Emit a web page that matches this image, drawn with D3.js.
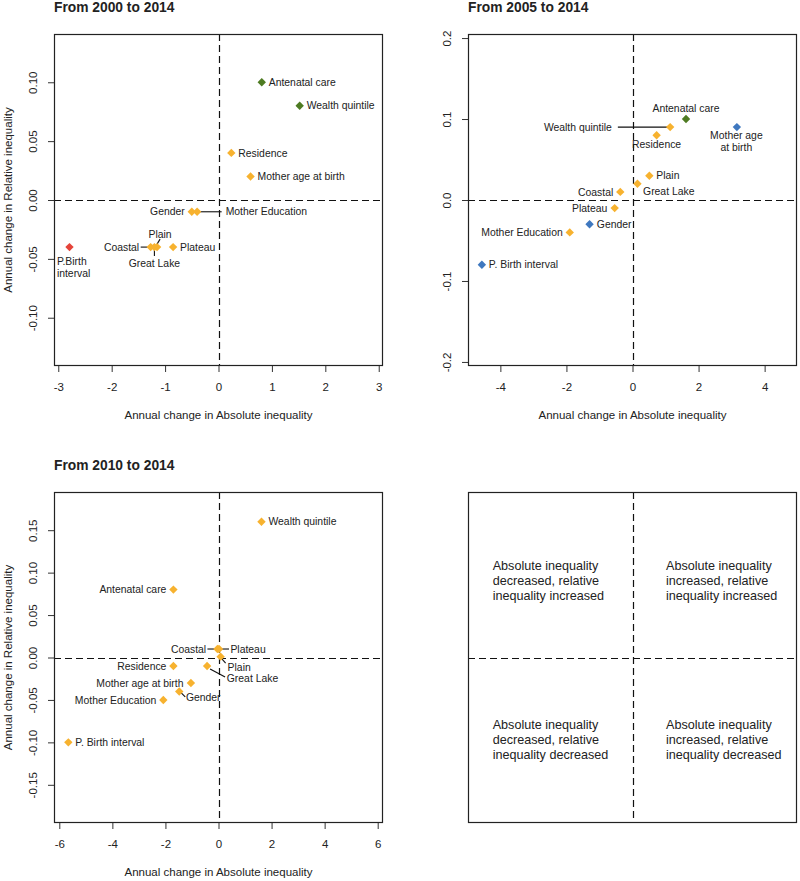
<!DOCTYPE html>
<html>
<head>
<meta charset="utf-8">
<script src="https://cdn.jsdelivr.net/npm/d3@7"></script>
<style>
  body { margin: 0; background: #fff; }
  svg { display: block; }
  text { font-family: "Liberation Sans", Arial, Helvetica, sans-serif; fill: #222; }
</style>
</head>
<body>
<svg id="chart" width="800" height="881"></svg>
<script>
// ---------------- DATA ----------------
const categories = ["Wealth quintile", "Mother Education", "Residence", "Gender",
  "Mother age at birth", "P. Birth interval", "Antenatal care",
  "Coastal", "Plain", "Plateau", "Great Lake"];

// From 2000 to 2014
const abs2000 = [1.52, -0.40, 0.24, -0.50, 0.60, -2.79, 0.81, -1.27, -1.15, -0.85, -1.20];
const rel2000 = [0.08, -0.01, 0.04, -0.01, 0.02, -0.04, 0.10, -0.04, -0.04, -0.04, -0.04];
const grp2000 = ["green", "orange", "orange", "orange", "orange", "red", "green", "orange", "orange", "orange", "orange"];

// From 2005 to 2014
const abs2005 = [1.14, -1.90, 0.73, -1.30, 3.16, -4.56, 1.62, -0.37, 0.51, -0.54, 0.15];
const rel2005 = [0.09, -0.04, 0.08, -0.03, 0.09, -0.08, 0.10, 0.01, 0.03, -0.01, 0.02];
const grp2005 = ["orange", "orange", "orange", "blue", "blue", "blue", "green", "orange", "orange", "orange", "orange"];

// From 2010 to 2014
const abs2010 = [1.62, -2.08, -1.70, -1.48, -1.04, -5.66, -1.70, -0.04, 0.08, 0.02, -0.43];
const rel2010 = [0.16, -0.05, -0.01, -0.04, -0.03, -0.10, 0.08, 0.01, 0.001, 0.01, -0.01];
const grp2010 = ["orange", "orange", "orange", "orange", "orange", "orange", "orange", "orange", "orange", "orange", "orange"];

const xTicks2000 = [-3, -2, -1, 0, 1, 2, 3];
const yTicks2000 = [-0.10, -0.05, 0.00, 0.05, 0.10];
const xTicks2005 = [-4, -2, 0, 2, 4];
const yTicks2005 = [-0.2, -0.1, 0.0, 0.1, 0.2];
const xTicks2010 = [-6, -4, -2, 0, 2, 4, 6];
const yTicks2010 = [-0.15, -0.10, -0.05, 0.00, 0.05, 0.10, 0.15];

const quadrantTexts = [
  ["Absolute inequality", "decreased, relative", "inequality increased"],
  ["Absolute inequality", "increased, relative", "inequality increased"],
  ["Absolute inequality", "decreased, relative", "inequality decreased"],
  ["Absolute inequality", "increased, relative", "inequality decreased"]
];

// ---------------- STYLE / LAYOUT ----------------
const colors = { green: "#4e7b22", orange: "#f7b22f", red: "#e5443a", blue: "#3f78bf" };

// label placement (pixel offsets from point)
const labels2000 = {
  "Antenatal care": { a: "start", dx: 7, dy: 0 },
  "Wealth quintile": { a: "start", dx: 7, dy: 0 },
  "Residence": { a: "start", dx: 7, dy: 0 },
  "Mother age at birth": { a: "start", dx: 7, dy: 0 },
  "Gender": { a: "end", dx: -7, dy: 0 },
  "Mother Education": { a: "start", dx: 28.5, dy: 0, line: [3, 0, 24.5, 0] },
  "Coastal": { a: "end", dx: -11.5, dy: 0, line: [-10, 0, -3, 0] },
  "Plain": { a: "middle", dx: 3, dy: -13, line: [0, -3, 3, -8] },
  "Great Lake": { a: "middle", dx: 0, dy: 16, line: [0, 3, 0, 9] },
  "Plateau": { a: "start", dx: 7, dy: 0 },
  "P. Birth interval": { a: "start", dx: -12.6, dy: 14, lines: ["P.Birth", "interval"] }
};
const labels2005 = {
  "Antenatal care": { a: "middle", dx: 0, dy: -10.5 },
  "Wealth quintile": { a: "end", dx: -58.3, dy: 0, line: [-52.3, 0, -3, 0] },
  "Residence": { a: "middle", dx: 0, dy: 9.6 },
  "Mother age at birth": { a: "middle", dx: -0.5, dy: 8, lines: ["Mother age", "at birth"] },
  "Plain": { a: "start", dx: 7, dy: 0 },
  "Great Lake": { a: "start", dx: 5.6, dy: 7.3 },
  "Coastal": { a: "end", dx: -7, dy: 0 },
  "Plateau": { a: "end", dx: -7.4, dy: 0 },
  "Gender": { a: "start", dx: 7.3, dy: 0 },
  "Mother Education": { a: "end", dx: -7, dy: 0 },
  "P. Birth interval": { a: "start", dx: 7, dy: 0 }
};
const labels2010 = {
  "Wealth quintile": { a: "start", dx: 7, dy: 0 },
  "Antenatal care": { a: "end", dx: -7, dy: 0 },
  "Coastal": { a: "end", dx: -11.3, dy: 0, line: [-10, 0, -3, 0] },
  "Plateau": { a: "start", dx: 11.4, dy: 0, line: [3, 0, 10, 0] },
  "Plain": { a: "start", dx: 7, dy: 10.7, line: [1, 2, 5, 6.5] },
  "Great Lake": { a: "start", dx: 19.7, dy: 12.7, line: [3, 3, 18, 11] },
  "Residence": { a: "end", dx: -7, dy: 0 },
  "Mother age at birth": { a: "end", dx: -7.4, dy: 0 },
  "Gender": { a: "start", dx: 6.7, dy: 6, line: [2, 1.5, 6, 5.5] },
  "Mother Education": { a: "end", dx: -7, dy: 0 },
  "P. Birth interval": { a: "start", dx: 7, dy: 0 }
};

const panels = [
  { title: "From 2000 to 2014", box: [54, 383, 34, 366], xd: [-3.08, 3.08], yd: [-0.141, 0.141],
    xt: xTicks2000, yt: yTicks2000, yf: ".2f", abs: abs2000, rel: rel2000, grp: grp2000, lab: labels2000, ytitle: true },
  { title: "From 2005 to 2014", box: [468, 797, 34, 366], xd: [-4.98, 4.98], yd: [-0.205, 0.205],
    xt: xTicks2005, yt: yTicks2005, yf: ".1f", abs: abs2005, rel: rel2005, grp: grp2005, lab: labels2005, ytitle: false },
  { title: "From 2010 to 2014", box: [54, 383, 492, 823], xd: [-6.2, 6.2], yd: [-0.195, 0.195],
    xt: xTicks2010, yt: yTicks2010, yf: ".2f", abs: abs2010, rel: rel2010, grp: grp2010, lab: labels2010, ytitle: true }
];

const svg = d3.select("#chart");
const fmtTick = (f) => (v) => { const s = d3.format(f)(Math.abs(v) < 1e-9 ? 0 : v); return s.replace("−", "-"); };
const crisp = v => Math.round(v) + 0.5;

function drawQuadrantLines(g, x, y, box) {
  g.append("line").attr("x1", crisp(x(0))).attr("x2", crisp(x(0))).attr("y1", box[2]).attr("y2", box[3])
    .attr("stroke", "#111").attr("stroke-width", 1.2).attr("stroke-dasharray", "7,4");
  g.append("line").attr("x1", box[0]).attr("x2", box[1]).attr("y1", crisp(y(0))).attr("y2", crisp(y(0)))
    .attr("stroke", "#111").attr("stroke-width", 1.2).attr("stroke-dasharray", "7,4");
}

panels.forEach(p => {
  const [x0, x1, y0, y1] = p.box;
  const x = d3.scaleLinear().domain(p.xd).range([x0, x1]);
  const y = d3.scaleLinear().domain(p.yd).range([y1, y0]);
  const g = svg.append("g");

  // title
  g.append("text").attr("x", x0).attr("y", p === panels[2] ? 470 : 12)
    .attr("font-size", 13.8).attr("font-weight", "bold").attr("fill", "#000").text(p.title);

  // axes
  const xAxis = d3.axisBottom(x).tickValues(p.xt).tickSize(6).tickPadding(11).tickFormat(fmtTick("d"));
  const gx = g.append("g").attr("transform", `translate(0,${y1})`).call(xAxis);
  gx.select(".domain").remove();
  gx.selectAll(".tick line").attr("stroke", "#333");
  gx.selectAll(".tick text").attr("font-size", 11.5).attr("fill", "#222")
    .attr("font-family", "Liberation Sans, Arial, sans-serif");

  const yAxis = d3.axisLeft(y).tickValues(p.yt).tickSize(6).tickFormat(fmtTick(p.yf));
  const gy = g.append("g").attr("transform", `translate(${x0},0)`).call(yAxis);
  gy.select(".domain").remove();
  gy.selectAll(".tick line").attr("stroke", "#333");
  gy.selectAll(".tick text").attr("font-size", 11.5).attr("fill", "#222")
    .attr("font-family", "Liberation Sans, Arial, sans-serif")
    .attr("x", null).attr("dy", null)
    .attr("text-anchor", "middle")
    .attr("transform", `translate(-21,0) rotate(-90)`)
    .attr("y", 4);

  // axis titles
  g.append("text").attr("x", (x0 + x1) / 2).attr("y", y1 + 53).attr("text-anchor", "middle")
    .attr("font-size", 11.5).text("Annual change in Absolute inequality");
  if (p.ytitle) {
    g.append("text").attr("transform", `translate(12,${(y0 + y1) / 2}) rotate(-90)`)
      .attr("text-anchor", "middle").attr("font-size", 11.5).text("Annual change in Relative inequality");
  }

  drawQuadrantLines(g, x, y, p.box);

  // box
  g.append("rect").attr("x", x0 + 0.5).attr("y", y0 + 0.5).attr("width", x1 - x0 - 1).attr("height", y1 - y0 - 1)
    .attr("fill", "none").attr("stroke", "#222").attr("stroke-width", 1.2);

  const data = categories.map((c, i) => ({ c, ax: p.abs[i], rl: p.rel[i], grp: p.grp[i] }));

  // leader lines
  data.forEach(d => {
    const L = p.lab[d.c];
    if (L && L.line) {
      const px = x(d.ax), py = y(d.rl);
      g.append("line").attr("x1", px + L.line[0]).attr("y1", py + L.line[1])
        .attr("x2", px + L.line[2]).attr("y2", py + L.line[3])
        .attr("stroke", "#111").attr("stroke-width", 1.1);
    }
  });

  // points (diamonds)
  const r = 4.2;
  g.selectAll("path.pt").data(data).enter().append("path").attr("class", "pt")
    .attr("d", d => {
      const px = x(d.ax), py = y(d.rl);
      return `M${px},${py - r}L${px + r},${py}L${px},${py + r}L${px - r},${py}Z`;
    })
    .attr("fill", d => colors[d.grp]);

  // labels
  data.forEach(d => {
    const L = p.lab[d.c];
    const px = x(d.ax), py = y(d.rl);
    const t = g.append("text").attr("text-anchor", L.a).attr("font-size", 10.4).attr("fill", "#222");
    const lines = L.lines || [d.c];
    lines.forEach((s, k) => {
      t.append("tspan").attr("x", px + L.dx).attr("y", py + L.dy + k * 12.3).attr("dy", "0.35em").text(s);
    });
  });
});

// ---------------- Panel 4 (quadrant legend) ----------------
{
  const box = [468, 797, 492, 823];
  const x = d3.scaleLinear().domain([-1, 1]).range([box[0], box[1]]);
  const y = d3.scaleLinear().domain([-1, 1]).range([box[3], box[2]]);
  const g = svg.append("g");
  drawQuadrantLines(g, x, y, box);
  g.append("rect").attr("x", box[0] + 0.5).attr("y", box[2] + 0.5).attr("width", box[1] - box[0] - 1)
    .attr("height", box[3] - box[2] - 1).attr("fill", "none").attr("stroke", "#222").attr("stroke-width", 1.2);
  const pos = [[492.7, 565.3], [666, 565.3], [492.7, 724.3], [666, 724.3]];
  quadrantTexts.forEach((lines, i) => {
    const t = g.append("text").attr("font-size", 12.6).attr("fill", "#222");
    lines.forEach((s, k) => {
      t.append("tspan").attr("x", pos[i][0]).attr("y", pos[i][1] + k * 15).attr("dy", "0.35em").text(s);
    });
  });
}
</script>
</body>
</html>
